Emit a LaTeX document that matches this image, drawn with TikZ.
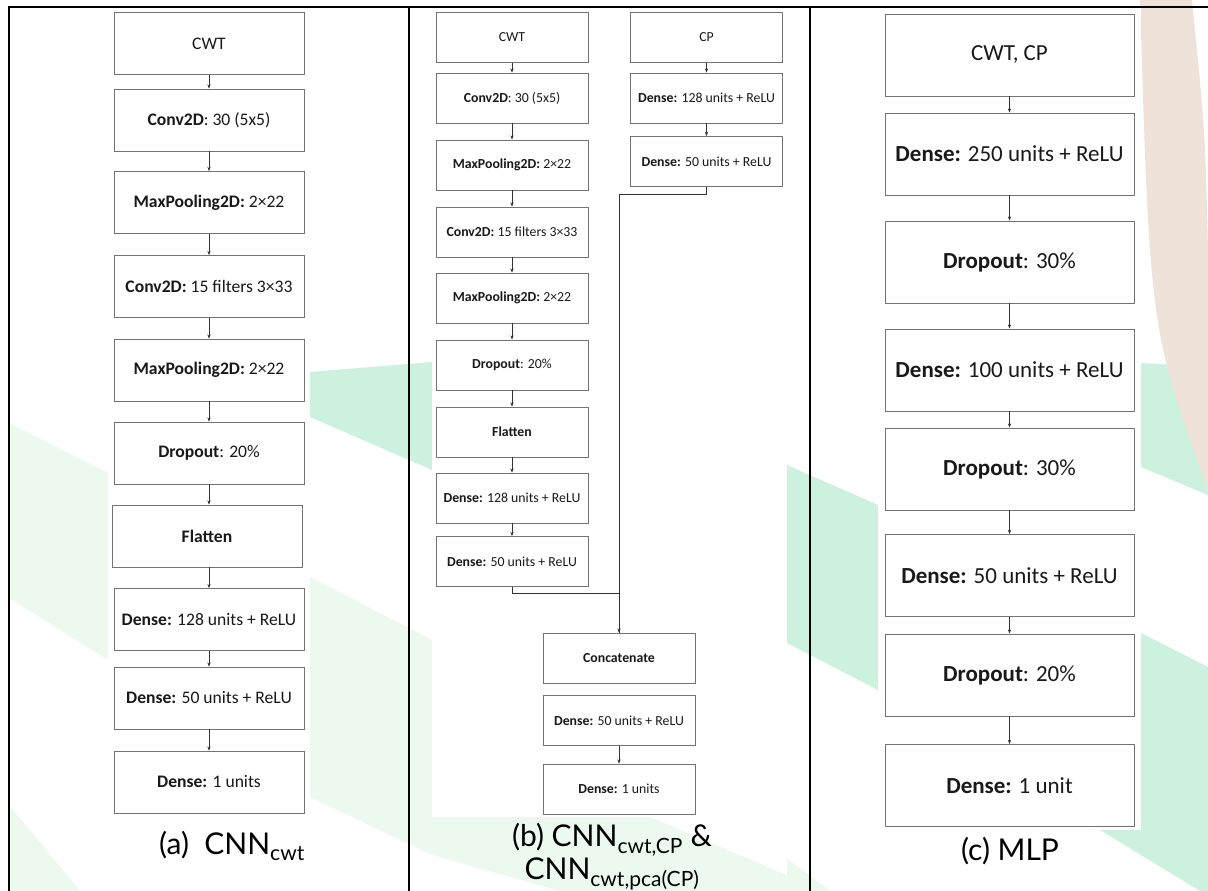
\documentclass[tikz,border=0pt]{standalone}
\usepackage{fontspec}
\setmainfont{Carlito}
\newfontfamily\capfont{Lato}
\usetikzlibrary{positioning}
\usetikzlibrary{arrows.meta}
\definecolor{boxgray}{rgb}{0.45,0.45,0.45}
\definecolor{mint}{HTML}{CDF1DF}
\definecolor{palegreen}{HTML}{ECF9EE}
\definecolor{peach}{HTML}{EFE2D8}

\begin{document}
\begin{tikzpicture}[%
  x=1pt, y=-1pt,
  >={Stealth[scale=0.8]},
  box/.style={draw=boxgray, line width=0.8pt, fill=white, inner sep=0pt, text=black!90},
  boxa/.style={box, minimum width=190pt, minimum height=62pt, font=\fontsize{17.6}{20}\selectfont},
  boxb/.style={box, minimum width=152pt, minimum height=50pt, font=\fontsize{13.8}{16}\selectfont},
  boxc/.style={box, minimum width=249pt, minimum height=82pt, font=\fontsize{23}{26}\selectfont},
  link/.style={->, draw=black!80, line width=0.5pt},
  frame/.style={line width=2.5pt},
  caption/.style={font=\capfont\fontsize{30}{31}\selectfont, align=center},
]

  \clip (0,0) rectangle (1208,891);
  \fill[white] (0,0) rectangle (1208,891);

  % slide background
  \fill[palegreen] (9,423) -- (108,473) -- (108,660) -- (9,598) -- cycle;
  \fill[palegreen] (9,805) -- (80,891) -- (9,891) -- cycle;
  \fill[mint] (310,372) -- (432,362) -- (432,470) -- (310,417) -- cycle;
  \fill[palegreen] (310,577) -- (432,640) -- (432,855) -- (310,797) -- cycle;
  \fill[palegreen] (432,817) -- (650,817) -- (810,885) -- (810,891) -- (560,891) -- (432,855) -- cycle;
  \fill[mint] (787,465) -- (878,505) -- (878,690) -- (787,643) -- cycle;
  \fill[palegreen] (787,858) -- (830,891) -- (787,891) -- cycle;
  \fill[mint] (1141,363) -- (1208,367) -- (1208,495) -- (1141,467) -- cycle;
  \fill[mint] (1141,633) -- (1208,667) -- (1208,891) -- (1200,891) -- (1100,830) -- (1141,830) -- cycle;
  \fill[peach] (1140,0) -- (1192,0) .. controls (1205,130) .. (1208,250) -- (1208,490)
    .. controls (1150,330) .. (1140,0) -- cycle;

  % image areas
  \fill[white] (108,8) rectangle (310,830);
  \fill[white] (432,8) rectangle (787,817);
  \fill[white] (878,8) rectangle (1141,830);

  % frame
  \draw[frame] (9,891) -- (9,7) -- (1208,7);
  \draw[frame] (409,7) -- (409,891);
  \draw[frame] (810,7) -- (810,891);

  % (a)
  \node[boxa] (a0) at (209,43.5) {CWT};
  \node[boxa] (a1) at (209,120) {\textbf{Conv2D}: 30 (5x5)};
  \node[boxa] (a2) at (209,202.5) {\textbf{MaxPooling2D:} 2×22};
  \node[boxa] (a3) at (209,286.5) {\textbf{Conv2D:} 15 filters 3×33};
  \node[boxa] (a4) at (209,370) {\textbf{MaxPooling2D:} 2×22};
  \node[boxa] (a5) at (209,453) {\textbf{Dropout}: 20\%};
  \node[boxa] (a6) at (207,536) {\textbf{Flatten}};
  \node[boxa] (a7) at (209,619.5) {\textbf{Dense:} 128 units + ReLU};
  \node[boxa] (a8) at (209,698) {\textbf{Dense:} 50 units + ReLU};
  \node[boxa] (a9) at (209,782) {\textbf{Dense:} 1 units};
  \foreach \i [evaluate=\i as \j using int(\i+1)] in {0,...,8}
    \draw[link] (a\i.south -| a9) -- (a\j.north -| a9);

  \node[caption] (capa) at (232,846) {(a)\ \ CNN\textsubscript{cwt}};

  % (b)
  \node[boxb] (b0) at (512,37.5) {CWT};
  \node[boxb] (b1) at (512,98) {\textbf{Conv2D}: 30 (5x5)};
  \node[boxb] (b2) at (512,165) {\textbf{MaxPooling2D:} 2×22};
  \node[boxb] (b3) at (512,232) {\textbf{Conv2D:} 15 filters 3×33};
  \node[boxb] (b4) at (512,298) {\textbf{MaxPooling2D:} 2×22};
  \node[boxb] (b5) at (512,365) {\textbf{Dropout}: 20\%};
  \node[boxb] (b6) at (512,432) {\textbf{Flatten}};
  \node[boxb] (b7) at (512,498) {\textbf{Dense:} 128 units + ReLU};
  \node[boxb] (b8) at (512,561.5) {\textbf{Dense:} 50 units + ReLU};
  \foreach \i [evaluate=\i as \j using int(\i+1)] in {0,...,7}
    \draw[link] (b\i) -- (b\j);

  \node[boxb] (p0) at (706.5,37.5) {CP};
  \node[boxb] (p1) at (706.5,98) {\textbf{Dense:} 128 units + ReLU};
  \node[boxb] (p2) at (706.5,161.5) {\textbf{Dense:} 50 units + ReLU};
  \draw[link] (p0) -- (p1);
  \draw[link] (p1) -- (p2);

  \node[boxb] (m0) at (619,658) {\textbf{Concatenate}};
  \node[boxb] (m1) at (619,720.5) {\textbf{Dense:} 50 units + ReLU};
  \node[boxb] (m2) at (619,789) {\textbf{Dense:} 1 units};
  \draw[link] (p2.south) -- ++(0,7) -| (m0.north);
  \draw[draw=black!80, line width=0.5pt] (b8.south) -- ++(0,6) -| (m0.north);
  \draw[link] (m1) -- (m2);

  \node[caption] (capb) at (612,857) {(b) CNN\textsubscript{cwt,CP} \&\\CNN\textsubscript{cwt,pca(CP)}};

  % (c)
  \node[boxc] (c0) at (1009.5,55) {CWT, CP};
  \node[boxc] (c1) at (1009.5,154) {\textbf{Dense:} 250 units + ReLU};
  \node[boxc] (c2) at (1009.5,262) {\textbf{Dropout}: 30\%};
  \node[boxc] (c3) at (1009.5,370) {\textbf{Dense:} 100 units + ReLU};
  \node[boxc] (c4) at (1009.5,469) {\textbf{Dropout}: 30\%};
  \node[boxc] (c5) at (1009.5,575.5) {\textbf{Dense:} 50 units + ReLU};
  \node[boxc] (c6) at (1009.5,675) {\textbf{Dropout}: 20\%};
  \node[boxc] (c7) at (1009.5,785.5) {\textbf{Dense:} 1 unit};
  \foreach \i [evaluate=\i as \j using int(\i+1)] in {0,...,6}
    \draw[link] (c\i) -- (c\j);

  \node[caption] (capc) at (1010,851) {(c) MLP};

\end{tikzpicture}
\end{document}
